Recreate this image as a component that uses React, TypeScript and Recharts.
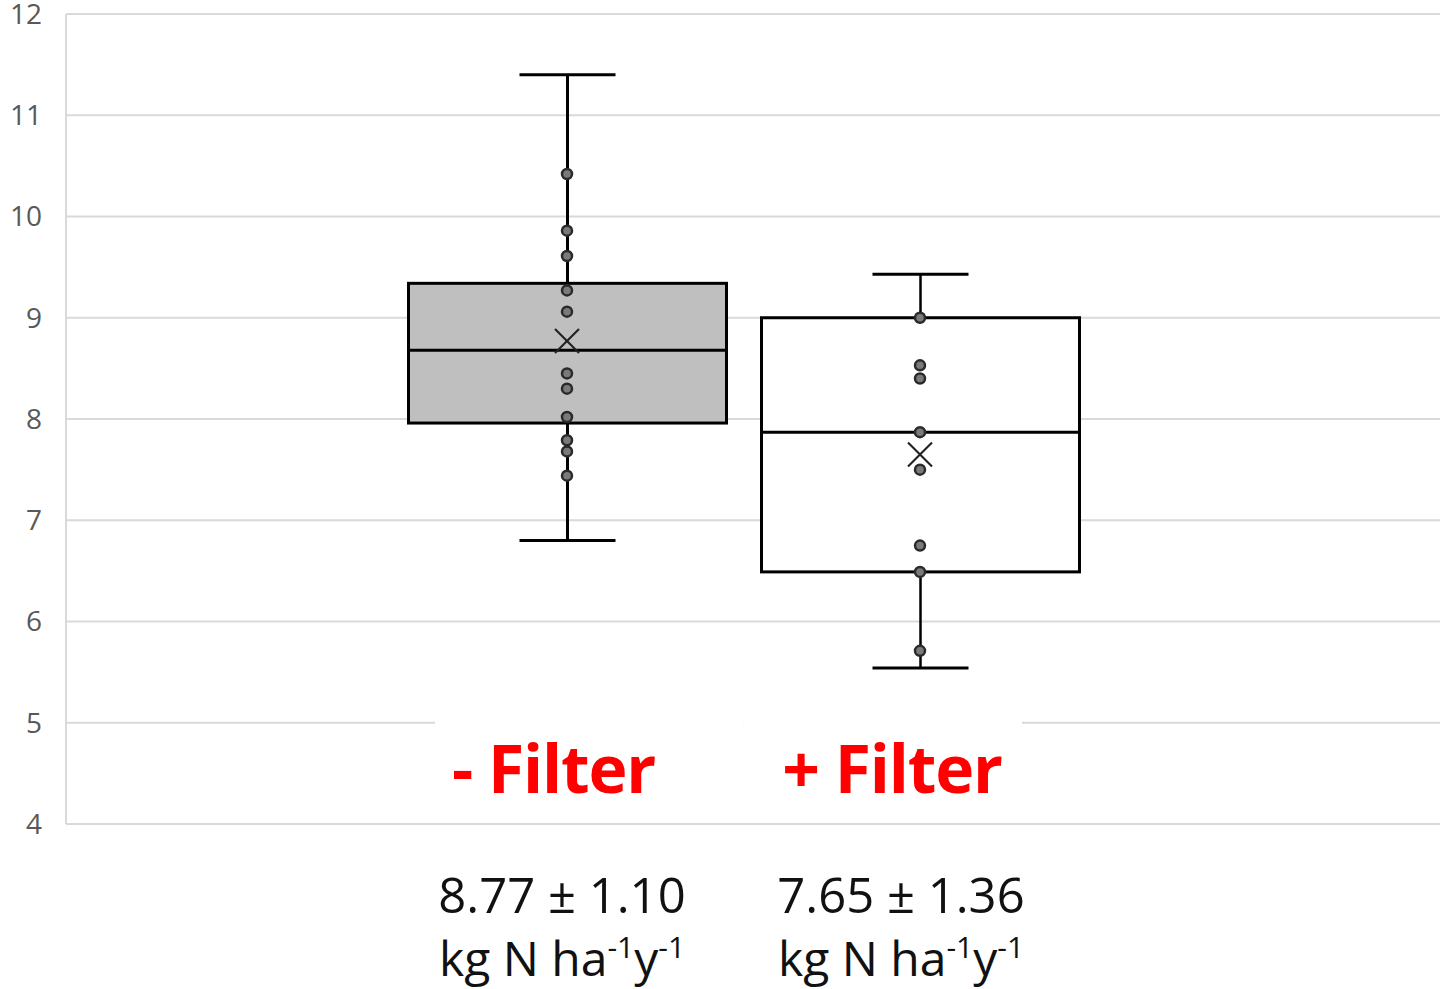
import React from 'react';
import { ComposedChart, Bar, Line, XAxis, YAxis, CartesianGrid } from 'recharts';

const categories = ['- Filter', '+ Filter'];
const whiskerLow = [6.8, 5.54];
const q1 = [7.96, 6.49];
const median = [8.68, 7.87];
const q3 = [9.34, 9.0];
const whiskerHigh = [11.4, 9.43];
const means = [8.77, 7.65];
const minusFilterPoints = [10.42, 9.86, 9.61, 9.27, 9.06, 8.45, 8.3, 8.02, 7.79, 7.68, 7.44];
const plusFilterPoints = [9.0, 8.53, 8.4, 7.87, 7.5, 6.75, 6.49, 5.71];
const meanLabels = ['8.77 ± 1.10', '7.65 ± 1.36'];
const boxFills = ['#bfbfbf', '#ffffff'];
const yTicks = [4, 5, 6, 7, 8, 9, 10, 11, 12];

const pointSets = [minusFilterPoints, plusFilterPoints];
const maxPts = Math.max(...pointSets.map((p) => p.length));
const pointKeys = Array.from({ length: maxPts }, (_, k) => 'p' + k);

const rows = categories.map((cat, i) => {
  const row: any = {
    cat,
    range: [whiskerLow[i], whiskerHigh[i]],
    q1: q1[i],
    median: median[i],
    q3: q3[i],
    mean: means[i],
    fill: boxFills[i],
  };
  pointKeys.forEach((key, k) => {
    row[key] = k < pointSets[i].length ? pointSets[i][k] : null;
  });
  return row;
});

const BoxShape = (props: any) => {
  const { x, y, width, height, payload, index } = props;
  const lo = payload.range[0];
  const hi = payload.range[1];
  const top = Math.min(y, y + height);
  const h = Math.abs(height);
  const toY = (v: number) => top + (h * (hi - v)) / (hi - lo);
  const cx = x + width / 2;
  const capHalf = 48;
  const wStroke = index === 0 ? 3 : 2.5;
  return (
    <g>
      <line x1={cx} x2={cx} y1={toY(hi)} y2={toY(lo)} stroke="#000" strokeWidth={wStroke} />
      <line x1={cx - capHalf} x2={cx + capHalf} y1={toY(hi)} y2={toY(hi)} stroke="#000" strokeWidth={3} />
      <line x1={cx - capHalf} x2={cx + capHalf} y1={toY(lo)} y2={toY(lo)} stroke="#000" strokeWidth={3} />
      <rect
        x={x}
        y={toY(payload.q3)}
        width={width}
        height={toY(payload.q1) - toY(payload.q3)}
        fill={payload.fill}
        stroke="#000"
        strokeWidth={3}
      />
      <line x1={x} x2={x + width} y1={toY(payload.median)} y2={toY(payload.median)} stroke="#000" strokeWidth={3} />
    </g>
  );
};

const PointDot = (props: any) => {
  const { cx, cy, value, key } = props;
  if (cx == null || cy == null || value == null) return <g key={key} />;
  return <circle key={key} cx={cx} cy={cy} r={5} fill="#7a7a7a" stroke="#2a2a2a" strokeWidth={2.5} />;
};

const MeanDot = (props: any) => {
  const { cx, cy, key } = props;
  if (cx == null || cy == null) return <g key={key} />;
  const s = 12;
  return (
    <g key={key}>
      <line x1={cx - s} y1={cy - s} x2={cx + s} y2={cy + s} stroke="#222" strokeWidth={2.2} />
      <line x1={cx - s} y1={cy + s} x2={cx + s} y2={cy - s} stroke="#222" strokeWidth={2.2} />
    </g>
  );
};

const CategoryTick = (props: any) => {
  const { x, y, payload, index } = props;
  const maskLeft = index === 0 ? x - 132 : x - 176.5;
  const maskRight = index === 0 ? x + 176.5 : x + 102;
  const redOffset = index === 0 ? -13.5 : -28;
  const textOffset = index === 0 ? -5 : -19;
  const tx = x + textOffset;
  return (
    <g>
      <rect x={maskLeft} y={y - 112} width={maskRight - maskLeft} height={110} fill="#ffffff" />
      <text
        x={x + redOffset}
        y={y - 31}
        textAnchor="middle"
        fill="#ff0000"
        fontFamily="'Open Sans', sans-serif"
        fontWeight={700}
        fontSize={66}
        letterSpacing={-1.2}
      >
        {payload.value}
      </text>
      <text x={tx} y={y + 89} textAnchor="middle" fill="#111" fontFamily="'Open Sans', sans-serif" fontSize={49}>
        {meanLabels[index]}
      </text>
      <text x={tx} y={y + 152} textAnchor="middle" fill="#111" fontFamily="'Open Sans', sans-serif" fontSize={48}>
        kg N ha
        <tspan dy={-18} fontSize={30}>-1</tspan>
        <tspan dy={18}>y</tspan>
        <tspan dy={-18} fontSize={30}>-1</tspan>
      </text>
    </g>
  );
};

export default function App() {
  return (
    <div style={{ width: 1443, height: 989, background: '#fff' }}>
      <style>{'body{margin:0;overflow:hidden;}'}</style>
      <ComposedChart
        width={1443}
        height={989}
        data={rows}
        margin={{ top: 14, right: 3, left: 0, bottom: 0 }}
      >
        <CartesianGrid vertical={false} stroke="#d9d9d9" strokeWidth={2} />
        <XAxis
          dataKey="cat"
          type="category"
          padding={{ left: 324.5, right: 343.5 }}
          axisLine={false}
          tickLine={false}
          tickSize={0}
          tickMargin={0}
          interval={0}
          height={165}
          tick={<CategoryTick />}
        />
        <YAxis
          type="number"
          domain={[4, 12]}
          ticks={yTicks}
          interval={0}
          width={66}
          axisLine={{ stroke: '#d9d9d9', strokeWidth: 2 }}
          tickLine={false}
          tickSize={0}
          tickMargin={24}
          tick={{ fill: '#595959', fontSize: 28, fontFamily: "'Open Sans', sans-serif" }}
        />
        <Bar dataKey="range" barSize={318} shape={<BoxShape />} isAnimationActive={false} />
        {pointKeys.map((key) => (
          <Line
            key={key}
            dataKey={key}
            stroke="none"
            dot={PointDot}
            activeDot={false}
            isAnimationActive={false}
            legendType="none"
          />
        ))}
        <Line dataKey="mean" stroke="none" dot={MeanDot} activeDot={false} isAnimationActive={false} />
      </ComposedChart>
    </div>
  );
}
